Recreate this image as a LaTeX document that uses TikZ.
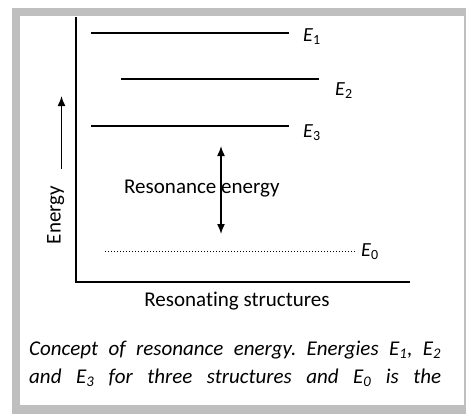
\documentclass[tikz,border=0pt]{standalone}
\usepackage{fontspec}
\setmainfont[Ligatures=NoCommon]{Carlito}
\usetikzlibrary{arrows.meta}
\begin{document}
\begin{tikzpicture}[x=1pt,y=-1pt,
  level/.style={line width=1.5pt},
  axis/.style={line width=1.5pt},
  lbl/.style={anchor=base west,inner sep=0pt,font=\fontsize{21}{25}\selectfont},
  elbl/.style={anchor=base west,inner sep=0pt,font=\fontsize{20}{24}\selectfont},
  tip/.style={-{Latex[length=10pt,width=8pt]}},
  dtip/.style={{Latex[length=10pt,width=8pt]}-{Latex[length=10pt,width=8pt]}}]
\useasboundingbox (0,0) rectangle (466,413);
% frame
\fill[fill={rgb,255:red,191;green,191;blue,191}] (12,8) rectangle (468,415);
\fill[white] (19.5,16) rectangle (464,404.5);
% axes
\coordinate (ytop) at (76,17);
\coordinate (orig) at (76,282);
\coordinate (xend) at (410,282);
\draw[axis] (ytop) -- (orig) -- (xend);
% levels
\coordinate (e1a) at (91,33); \coordinate (e1b) at (289,33);
\coordinate (e2a) at (121,79); \coordinate (e2b) at (319,79);
\coordinate (e3a) at (91,126); \coordinate (e3b) at (289,126);
\coordinate (e0a) at (105,251); \coordinate (e0b) at (355,251);
\draw[level] (e1a) -- (e1b);
\draw[level] (e2a) -- (e2b);
\draw[level] (e3a) -- (e3b);
\draw[line width=1pt,dotted] (e0a) -- (e0b);
\node[elbl] (E1) at (303,41) {\textit{E}\textsubscript{1}};
\node[elbl] (E2) at (335,95) {\textit{E}\textsubscript{2}};
\node[elbl] (E3) at (303,137) {\textit{E}\textsubscript{3}};
\node[elbl] (E0) at (361,256) {\textit{E}\textsubscript{0}};
% energy arrow
\coordinate (ea) at (61.5,169);
\coordinate (eb) at (61.5,96);
\draw[line width=1.5pt,tip] (ea) -- (eb);
\node[lbl,anchor=base,rotate=90] (energy) at (60.5,215) {Energy};
% resonance energy
\node[lbl] (res) at (124,193) {Resonance energy};
\coordinate (ra) at (221,146);
\coordinate (rb) at (221,234);
\draw[line width=1.5pt,dtip] (ra) -- (rb);
% x label
\node[lbl,anchor=base] (xl) at (237,306) {Resonating structures};
% caption
\node[lbl] (cap) at (29,355) {\parbox[t]{412pt}{\fontsize{21}{28}\selectfont\itshape\frenchspacing\parfillskip=0pt
Concept of resonance energy. Energies \textit{E}\textsubscript{1}, \textit{E}\textsubscript{2}\linebreak
and \textit{E}\textsubscript{3} for three structures and \textit{E}\textsubscript{0} is the}};
\end{tikzpicture}
\end{document}
